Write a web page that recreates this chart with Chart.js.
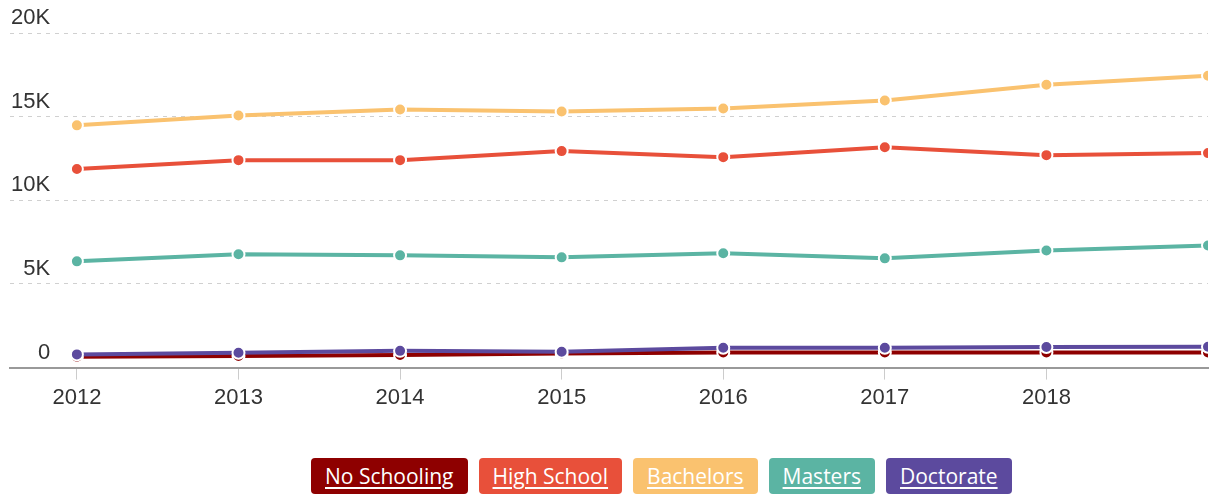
<!DOCTYPE html>
<html lang="en">
<head>
  <meta charset="UTF-8">
  <title>Education Levels</title>
  <script src="https://cdn.jsdelivr.net/npm/chart.js"></script>
  <style>
    body {
      margin: 0;
      background: #fff;
      width: 1221px;
      height: 496px;
      overflow: hidden;
      position: relative;
    }
    #chart-wrap {
      position: absolute;
      left: 0;
      top: 0;
      width: 1221px;
      height: 416px;
    }
    #legend {
      position: absolute;
      left: 311px;
      top: 458px;
      display: flex;
      gap: 11px;
    }
    .legend-item {
      height: 36px;
      line-height: 36px;
      padding: 0 14px;
      border-radius: 4px;
      color: #fff;
      font-family: "Open Sans", sans-serif;
      font-size: 21px;
      text-decoration: underline;
      text-underline-offset: 3px;
      white-space: nowrap;
    }
  </style>
</head>
<body>
  <div id="chart-wrap"><canvas id="chart"></canvas></div>
  <div id="legend"></div>

  <script>
    const years = [2012, 2013, 2014, 2015, 2016, 2017, 2018, 2019];
    const tickYears = [2012, 2013, 2014, 2015, 2016, 2017, 2018];

    const seriesNames = ["No Schooling", "High School", "Bachelors", "Masters", "Doctorate"];
    const seriesColors = ["#8e0000", "#e8503a", "#fac26f", "#5bb4a3", "#5c4a9e"];

    const noSchooling = [650, 700, 760, 850, 900, 900, 900, 900];
    const highSchool = [11870, 12400, 12400, 12940, 12580, 13170, 12700, 12820];
    const bachelors = [14480, 15070, 15430, 15310, 15490, 15960, 16910, 17450];
    const masters = [6350, 6770, 6710, 6590, 6830, 6530, 7000, 7300];
    const doctorate = [790, 890, 1000, 950, 1190, 1190, 1230, 1250];

    const allSeries = [noSchooling, highSchool, bachelors, masters, doctorate];

    // legend boxes (html so text can sit on the filled box)
    const legend = document.getElementById("legend");
    seriesNames.forEach((name, i) => {
      const item = document.createElement("div");
      item.className = "legend-item";
      item.style.background = seriesColors[i];
      item.innerText = name;
      legend.appendChild(item);
    });

    const datasets = allSeries.map((values, i) => ({
      label: seriesNames[i],
      data: values.map((v, j) => ({ x: years[j], y: v })),
      borderColor: seriesColors[i],
      backgroundColor: seriesColors[i],
      borderWidth: 4,
      pointRadius: 6,
      pointHoverRadius: 6,
      pointBorderWidth: 2,
      pointBorderColor: "#fff",
      pointBackgroundColor: seriesColors[i],
      tension: 0,
      fill: false,
      order: allSeries.length - i  // doctorate drawn on top
    }));

    new Chart(document.getElementById("chart"), {
      type: "line",
      data: { datasets: datasets },
      options: {
        responsive: true,
        maintainAspectRatio: false,
        animation: false,
        layout: { padding: { top: 33, left: 8, right: 13, bottom: 0 } },
        plugins: {
          legend: { display: false },
          tooltip: { enabled: false }
        },
        scales: {
          x: {
            type: "linear",
            min: 2011.586,
            max: 2019,
            afterBuildTicks: (scale) => {
              scale.ticks = tickYears.map(y => ({ value: y }));
            },
            grid: {
              drawOnChartArea: false,
              drawTicks: true,
              tickLength: 12,
              color: "#cccccc"
            },
            border: { display: true, color: "#999999", width: 2 },
            ticks: {
              autoSkip: false,
              maxRotation: 0,
              padding: 5,
              color: "#333333",
              font: { family: "Arial, 'Liberation Sans', sans-serif", size: 22 },
              callback: (v) => String(v)
            }
          },
          y: {
            min: 0,
            max: 20000,
            grid: {
              drawTicks: false,
              color: "#d0d0d0",
              lineWidth: 1
            },
            border: { display: false, dash: [4, 5] },
            ticks: {
              stepSize: 5000,
              mirror: true,
              crossAlign: "far",
              padding: 1,
              labelOffset: -15,
              color: "#333333",
              font: { family: "Arial, 'Liberation Sans', sans-serif", size: 22 },
              callback: (v) => v === 0 ? "0" : (v / 1000) + "K"
            }
          }
        }
      }
    });
  </script>
</body>
</html>
